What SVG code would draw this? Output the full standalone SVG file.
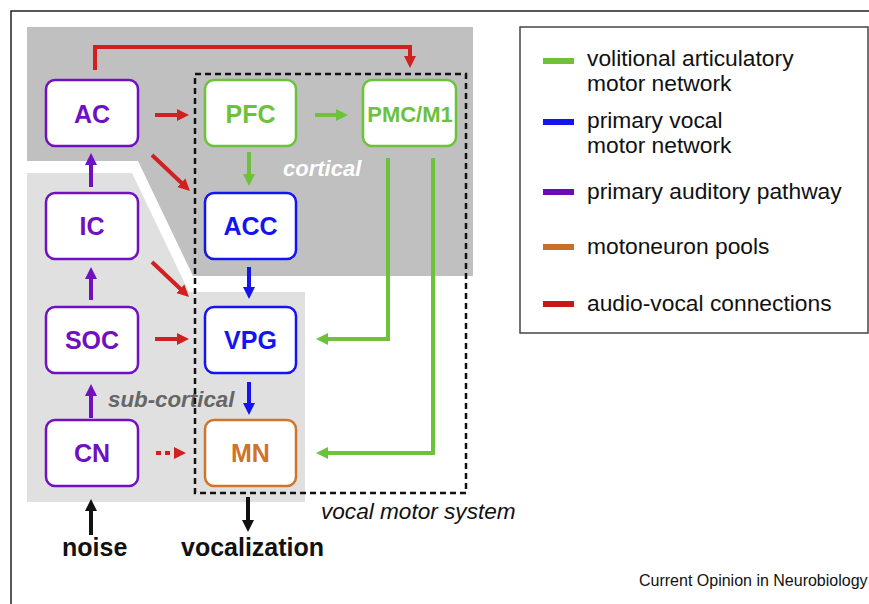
<svg xmlns="http://www.w3.org/2000/svg" width="869" height="604" viewBox="0 0 869 604">
<style>
.node rect{fill:#fff;stroke-width:2.5}
.node text{font-family:"Liberation Sans",Arial,sans-serif;font-weight:bold;font-size:25px;text-anchor:middle}
.pu rect{stroke:#7010c0}.pu text{fill:#7010c0}
.gr rect{stroke:#6cc23a}.gr text{fill:#6cc23a}
.bl rect{stroke:#1414f0}.bl text{fill:#1414f0}
.or rect{stroke:#cf7428}.or text{fill:#cf7428}
.c{fill:none;stroke-width:4}
.r{stroke:#d02020}.g{stroke:#6cc23a}.b{stroke:#1414f0}.p{stroke:#7010c0}.k{stroke:#111}
.lab{font-family:"Liberation Sans",Arial,sans-serif}
.leg{font-family:"Liberation Sans",Arial,sans-serif;font-size:22.8px;fill:#111}
</style>
<defs>
<marker id="ar" markerUnits="userSpaceOnUse" markerWidth="14" markerHeight="14" refX="4" refY="6" orient="auto"><path d="M0,0L12,6L0,12Z" fill="#d02020"/></marker>
<marker id="ag" markerUnits="userSpaceOnUse" markerWidth="14" markerHeight="14" refX="4" refY="6" orient="auto"><path d="M0,0L12,6L0,12Z" fill="#6cc23a"/></marker>
<marker id="ab" markerUnits="userSpaceOnUse" markerWidth="14" markerHeight="14" refX="4" refY="6" orient="auto"><path d="M0,0L12,6L0,12Z" fill="#1414f0"/></marker>
<marker id="ap" markerUnits="userSpaceOnUse" markerWidth="14" markerHeight="14" refX="4" refY="6" orient="auto"><path d="M0,0L12,6L0,12Z" fill="#7010c0"/></marker>
<marker id="ak" markerUnits="userSpaceOnUse" markerWidth="14" markerHeight="14" refX="4" refY="6" orient="auto"><path d="M0,0L12,6L0,12Z" fill="#111"/></marker>
</defs>
<rect width="869" height="604" fill="#fff"/>
<path d="M11,604V11H869" fill="none" stroke="#222" stroke-width="1.5"/>
<g id="regions">
<path d="M27,27H473V276H193L138,161H27Z" fill="#c0c0c0"/>
<path d="M27,173H132L189,292H305V502H27Z" fill="#e0e0e0"/>
</g>
<text class="lab" x="283" y="176" font-size="22" font-style="italic" font-weight="bold" fill="#fff">cortical</text>
<text class="lab" x="108" y="407" font-size="22.3" font-style="italic" font-weight="bold" fill="#666">sub-cortical</text>
<rect id="vocal-motor-system" x="195" y="74" width="271" height="419" fill="none" stroke="#111" stroke-width="2.5" stroke-dasharray="6,4"/>
<text class="lab" x="321" y="519" font-size="22.6" font-style="italic" fill="#111">vocal motor system</text>
<g id="connectors">
<path class="c r" d="M95,70V47H410V60" marker-end="url(#ar)"/>
<path class="c r" d="M155,115H181" marker-end="url(#ar)"/>
<path class="c r" d="M152,155L184.2,185.5" marker-end="url(#ar)"/>
<path class="c r" d="M152,262L183.2,291.5" marker-end="url(#ar)"/>
<path class="c r" d="M155,339H181" marker-end="url(#ar)"/>
<path class="c r" d="M156,453H178" stroke-dasharray="5,4" marker-end="url(#ar)"/>
<path class="c g" d="M315,115H340" marker-end="url(#ag)"/>
<path class="c g" d="M249,152V178" marker-end="url(#ag)"/>
<path class="c g" d="M388,158V339H324" marker-end="url(#ag)"/>
<path class="c g" d="M433,158V453H324" marker-end="url(#ag)"/>
<path class="c b" d="M249,267V291" marker-end="url(#ab)"/>
<path class="c b" d="M249,382V407" marker-end="url(#ab)"/>
<path class="c p" d="M91,187V161" marker-end="url(#ap)"/>
<path class="c p" d="M91,300V275" marker-end="url(#ap)"/>
<path class="c p" d="M91,418V392" marker-end="url(#ap)"/>
<path class="c k" d="M91,535V507" marker-end="url(#ak)"/>
<path class="c k" d="M248,497V524" marker-end="url(#ak)"/>
</g>
<g id="AC" class="node pu"><rect x="46" y="80" width="92" height="66" rx="9"/><text x="92" y="123">AC</text></g>
<g id="PFC" class="node gr"><rect x="205" y="80" width="91" height="66" rx="9"/><text x="250.5" y="123">PFC</text></g>
<g id="PMC-M1" class="node gr"><rect x="363" y="80" width="93" height="66" rx="9"/><text x="410" y="122" style="font-size:22px">PMC/M1</text></g>
<g id="IC" class="node pu"><rect x="46" y="193" width="92" height="66" rx="9"/><text x="92" y="235">IC</text></g>
<g id="ACC" class="node bl"><rect x="205" y="193" width="91" height="66" rx="9"/><text x="250.5" y="235">ACC</text></g>
<g id="SOC" class="node pu"><rect x="46" y="307" width="92" height="66" rx="9"/><text x="92" y="349">SOC</text></g>
<g id="VPG" class="node bl"><rect x="205" y="307" width="91" height="66" rx="9"/><text x="250.5" y="349">VPG</text></g>
<g id="CN" class="node pu"><rect x="46" y="420" width="92" height="66" rx="9"/><text x="92" y="462">CN</text></g>
<g id="MN" class="node or"><rect x="205" y="420" width="91" height="66" rx="9"/><text x="250.5" y="462">MN</text></g>
<text class="lab" x="62" y="556" font-size="25" font-weight="bold" fill="#111">noise</text>
<text class="lab" x="181" y="556" font-size="25" font-weight="bold" fill="#111">vocalization</text>
<g id="legend">
<rect x="520" y="27" width="348" height="306" fill="#fff" stroke="#444" stroke-width="1.5"/>
<rect x="543" y="58" width="31" height="6" fill="#6cc23a"/>
<rect x="543" y="119" width="31" height="6" fill="#1414f0"/>
<rect x="543" y="189" width="31" height="6" fill="#6a0ab8"/>
<rect x="543" y="244" width="31" height="6" fill="#c87028"/>
<rect x="543" y="301" width="31" height="6" fill="#c81818"/>
<text class="leg" x="587" y="66">volitional articulatory</text>
<text class="leg" x="587" y="91">motor network</text>
<text class="leg" x="587" y="128">primary vocal</text>
<text class="leg" x="587" y="153">motor network</text>
<text class="leg" x="587" y="199">primary auditory pathway</text>
<text class="leg" x="587" y="254">motoneuron pools</text>
<text class="leg" x="587" y="311">audio-vocal connections</text>
</g>
<text class="lab" x="639" y="586" font-size="16" fill="#111">Current Opinion in Neurobiology</text>
</svg>
